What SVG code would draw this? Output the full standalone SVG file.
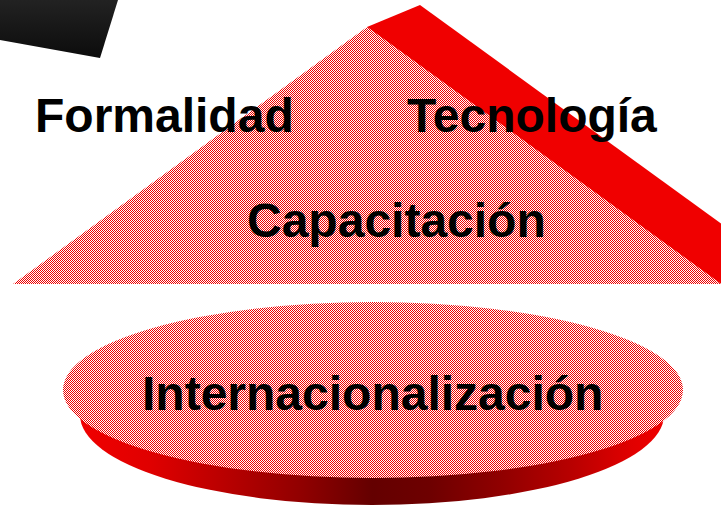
<svg xmlns="http://www.w3.org/2000/svg" width="721" height="522" viewBox="0 0 721 522">
  <defs>
    <pattern id="checker" x="0" y="0" width="2" height="2" patternUnits="userSpaceOnUse">
      <rect x="0" y="0" width="2" height="2" fill="#ffffff"/>
      <rect x="0" y="0" width="1" height="1" fill="#f00000"/>
      <rect x="1" y="1" width="1" height="1" fill="#f00000"/>
    </pattern>
    <linearGradient id="darkTab" x1="0" y1="0" x2="0" y2="1">
      <stop offset="0" stop-color="#222222"/>
      <stop offset="1" stop-color="#0c0c0c"/>
    </linearGradient>
    <linearGradient id="rim" x1="80" y1="0" x2="665" y2="0" gradientUnits="userSpaceOnUse">
      <stop offset="0" stop-color="#f00000"/>
      <stop offset="0.12" stop-color="#e00000"/>
      <stop offset="0.25" stop-color="#b80000"/>
      <stop offset="0.38" stop-color="#900000"/>
      <stop offset="0.5" stop-color="#640000"/>
      <stop offset="0.6" stop-color="#6e0000"/>
      <stop offset="0.72" stop-color="#900000"/>
      <stop offset="0.84" stop-color="#b80000"/>
      <stop offset="0.94" stop-color="#e00000"/>
      <stop offset="1" stop-color="#f00000"/>
    </linearGradient>
    <style>
      .lbl { font-family: "Liberation Sans", Arial, sans-serif; font-weight: bold; font-size: 48px; fill: #000000; }
    </style>
  </defs>

  <g id="corner-tab">
    <polygon points="0,0 118,0 100,58 0,40" fill="url(#darkTab)"/>
  </g>

  <g id="pyramid">
    <polygon points="367,27 420,5 774,262 721,284" fill="#f00000"/>
    <polygon points="367,27 13,284 721,284" fill="url(#checker)"/>
  </g>

  <g id="disc">
    <ellipse cx="372" cy="415" rx="292" ry="90" fill="url(#rim)"/>
    <ellipse cx="373" cy="390" rx="310" ry="88" fill="url(#checker)"/>
  </g>

  <g id="labels">
    <g id="formalidad"><text class="lbl" x="35" y="132">Formalidad</text></g>
    <g id="tecnologia"><text class="lbl" x="407" y="132">Tecnología</text></g>
    <g id="capacitacion"><text class="lbl" x="247" y="237">Capacitación</text></g>
    <g id="internacionalizacion"><text class="lbl" x="142" y="410">Internacionalización</text></g>
  </g>

  <g id="connectors"></g>
</svg>
